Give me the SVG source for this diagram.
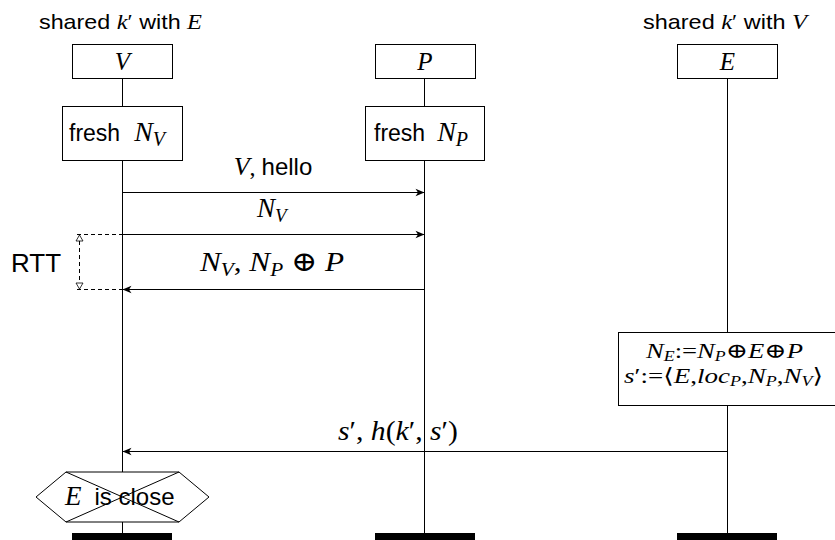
<svg xmlns="http://www.w3.org/2000/svg" width="835" height="540" viewBox="0 0 835 540">
<style>
.sans{font-family:"Liberation Sans",Arial,sans-serif;font-style:normal}
.m{font-family:"Liberation Serif","Times New Roman","DejaVu Serif",serif;font-style:italic}
.r{font-family:"Liberation Serif","DejaVu Serif",serif;font-style:normal}
.box{fill:#fff;stroke:#000;stroke-width:1}
.life{stroke:#000;stroke-width:1;fill:none}
.msg{stroke:#000;stroke-width:1;fill:none}
.dash{stroke:#000;stroke-width:1;fill:none;stroke-dasharray:4,3}
.bar{fill:#000}
</style>
<defs>
<marker id="ah" viewBox="-10 -5 11 10" refX="0" refY="0" markerWidth="11" markerHeight="10" markerUnits="userSpaceOnUse" orient="auto">
<path d="M0,0 L-9,-3.8 L-6.5,0 L-9,3.8 Z" fill="#000"/>
</marker>
</defs>
<rect width="835" height="540" fill="#fff"/>

<g id="lifelines">
<line class="life" x1="122.5" y1="78" x2="122.5" y2="534"/>
<line class="life" x1="424.5" y1="78" x2="424.5" y2="534"/>
<line class="life" x1="727.5" y1="78" x2="727.5" y2="534"/>
</g>

<g id="V">
<text x="39" y="29" font-size="21" class="sans" textLength="163" lengthAdjust="spacingAndGlyphs">shared <tspan class="m" font-size="22">k</tspan><tspan class="r">′</tspan> with <tspan class="m" font-size="22">E</tspan></text>
<rect class="box" x="72.5" y="44.5" width="100" height="34"/>
<text x="122.5" y="70" text-anchor="middle" font-size="25" class="m">V</text>
<rect class="bar" x="72" y="533" width="100" height="8"/>
</g>

<g id="P">
<rect class="box" x="375.5" y="44.5" width="100" height="34"/>
<text x="425" y="70" text-anchor="middle" font-size="25" class="m">P</text>
<rect class="bar" x="375" y="533" width="100" height="8"/>
</g>

<g id="E">
<text x="643" y="29" font-size="21" class="sans" textLength="164" lengthAdjust="spacingAndGlyphs">shared <tspan class="m" font-size="22">k</tspan><tspan class="r">′</tspan> with <tspan class="m" font-size="22">V</tspan></text>
<rect class="box" x="677.5" y="44.5" width="100" height="34"/>
<text x="727.5" y="70" text-anchor="middle" font-size="25" class="m">E</text>
<rect class="bar" x="677" y="533" width="100" height="8"/>
</g>

<g id="freshV">
<rect class="box" x="62.5" y="106.5" width="120" height="54"/>
<text x="69" y="141" font-size="23"><tspan class="sans">fresh</tspan><tspan class="m" font-size="28" dx="14">N</tspan><tspan class="m" font-size="20" dy="5">V</tspan></text>
</g>

<g id="freshP">
<rect class="box" x="365.5" y="106.5" width="119" height="54"/>
<text x="374" y="141" font-size="23"><tspan class="sans">fresh</tspan><tspan class="m" font-size="28" dx="12">N</tspan><tspan class="m" font-size="20" dy="5">P</tspan></text>
</g>

<g id="computeE">
<rect class="box" x="618.5" y="332.5" width="217" height="73"/>
<text x="646" y="358" font-size="21" class="m" textLength="157" lengthAdjust="spacingAndGlyphs">N<tspan font-size="14" dy="3">E</tspan><tspan class="r" dy="-3">:=</tspan>N<tspan font-size="14" dy="3">P</tspan><tspan class="r" dy="-3">⊕</tspan>E<tspan class="r">⊕</tspan>P</text>
<text x="624" y="383" font-size="21" class="m" textLength="199" lengthAdjust="spacingAndGlyphs">s<tspan class="r">′:=⟨</tspan>E<tspan class="r">,</tspan>loc<tspan font-size="14" dy="3">P</tspan><tspan class="r" dy="-3">,</tspan>N<tspan font-size="14" dy="3">P</tspan><tspan class="r" dy="-3">,</tspan>N<tspan font-size="14" dy="3">V</tspan><tspan class="r" dy="-3">⟩</tspan></text>
</g>

<g id="close">
<polygon class="box" points="36,497 66,472 179,472 209,497 179,522 66,522"/>
<line class="msg" x1="66" y1="472" x2="179" y2="522"/>
<line class="msg" x1="179" y1="472" x2="66" y2="522"/>
<text x="65" y="505" font-size="24"><tspan class="m" font-size="27">E</tspan><tspan class="sans" dx="13">is close</tspan></text>
</g>

<g id="rtt">
<line class="dash" x1="77" y1="234.5" x2="122" y2="234.5"/>
<line class="dash" x1="77" y1="289.5" x2="122" y2="289.5"/>
<line class="dash" x1="79.5" y1="241" x2="79.5" y2="283"/>
<polygon points="79.5,235 76,241 83,241" fill="#fff" stroke="#000" stroke-width="0.8"/>
<polygon points="79.5,289 76,283 83,283" fill="#fff" stroke="#000" stroke-width="0.8"/>
<text x="36" y="272" text-anchor="middle" font-size="26" class="sans">RTT</text>
</g>

<g id="connectors">
<line class="msg" x1="122.5" y1="192.5" x2="424.5" y2="192.5" marker-end="url(#ah)"/>
<line class="msg" x1="122.5" y1="234.5" x2="424.5" y2="234.5" marker-end="url(#ah)"/>
<line class="msg" x1="424.5" y1="289.5" x2="122.5" y2="289.5" marker-end="url(#ah)"/>
<line class="msg" x1="727.5" y1="451.5" x2="122.5" y2="451.5" marker-end="url(#ah)"/>
<text x="273" y="175" text-anchor="middle" font-size="24"><tspan class="m" font-size="26">V</tspan><tspan class="r">, </tspan><tspan class="sans">hello</tspan></text>
<text x="257" y="217" font-size="27" class="m">N<tspan font-size="19" dy="5">V</tspan></text>
<text x="200" y="271" font-size="28" class="m" textLength="144" lengthAdjust="spacingAndGlyphs">N<tspan font-size="19" dy="5">V</tspan><tspan class="r" dy="-5">, </tspan>N<tspan font-size="19" dy="5">P</tspan><tspan class="r" dy="-5"> ⊕ </tspan>P</text>
<text x="338" y="440" font-size="27" class="m" textLength="120" lengthAdjust="spacingAndGlyphs">s<tspan class="r">′, </tspan>h<tspan class="r">(</tspan>k<tspan class="r">′, </tspan>s<tspan class="r">′)</tspan></text>
</g>
</svg>
